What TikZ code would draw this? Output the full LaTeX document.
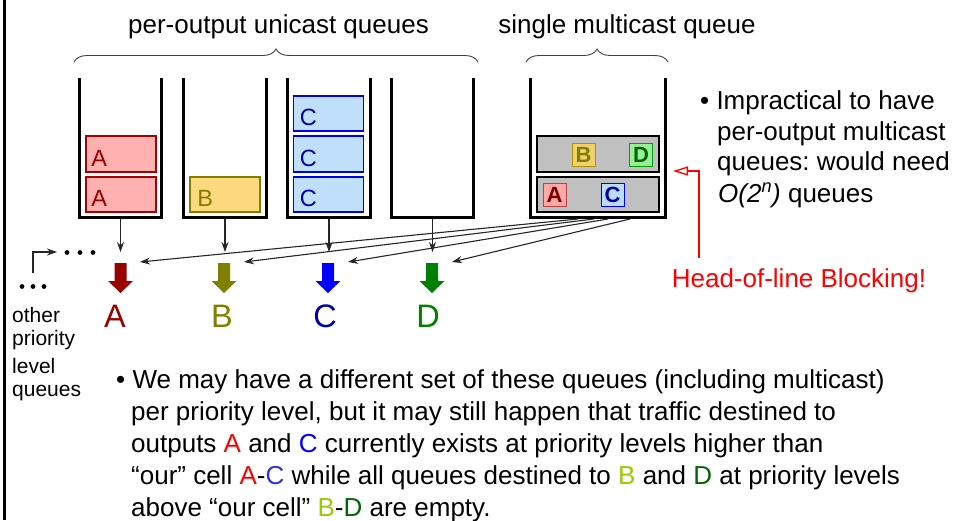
\documentclass[tikz,border=0pt]{standalone}
\usepackage{fontspec}
\setmainfont{Liberation Sans}
\usetikzlibrary{arrows.meta,decorations.pathreplacing,calc}
\frenchspacing

\definecolor{aDark}{HTML}{990000}
\definecolor{aFill}{HTML}{FFB0B0}
\definecolor{aLine}{HTML}{A80000}
\definecolor{bDark}{HTML}{808000}
\definecolor{bFill}{HTML}{FFD980}
\definecolor{cFill}{HTML}{BFDFFA}
\definecolor{cLine}{HTML}{0000F0}
\definecolor{cDark}{HTML}{0000A0}
\definecolor{dDark}{HTML}{008000}
\definecolor{rowGray}{HTML}{C0C0C0}
\definecolor{sqAFill}{HTML}{FFA8A8}
\definecolor{sqALine}{HTML}{C04040}
\definecolor{sqBFill}{HTML}{F2D070}
\definecolor{sqBLine}{HTML}{B09000}
\definecolor{sqCFill}{HTML}{BBDDFF}
\definecolor{sqDFill}{HTML}{99EE99}
\definecolor{sqDLine}{HTML}{00A000}
\definecolor{txtRed}{HTML}{FF0000}
\definecolor{txtBlue}{HTML}{0000FF}
\definecolor{txtSlate}{HTML}{3333CC}
\definecolor{txtLime}{HTML}{99CC00}
\definecolor{txtGreen}{HTML}{006600}

\tikzset{
  queue/.style={minimum width=#1, minimum height=139pt, inner sep=0pt, draw=none},
  wall/.style={line width=3pt, line join=miter, line cap=butt},
  cell/.style={minimum width=70pt, minimum height=35pt, inner sep=0pt, line width=1.8pt},
  cellA/.style={cell, fill=aFill, draw=aLine},
  cellB/.style={cell, fill=bFill, draw=bDark},
  cellC/.style={cell, fill=cFill, draw=cLine},
  celltext/.style={inner sep=0pt, anchor=base west, font=\fontsize{23.5}{23.5}\selectfont},
  grayrow/.style={minimum width=122pt, inner sep=0pt, fill=rowGray, draw=black, line width=2pt},
  sq/.style={minimum size=23pt, inner sep=0pt, line width=1pt, font=\fontsize{22}{22}\selectfont\bfseries},
  bigtxt/.style={inner sep=0pt, anchor=base, font=\fontsize{32.5}{32.5}\selectfont},
  body/.style={inner sep=0pt, anchor=base west, font=\fontsize{26}{31}\selectfont},
  small/.style={inner sep=0pt, anchor=base west, font=\fontsize{21}{21}\selectfont},
  conn/.style={draw=black!85, line width=1.1pt, -{Stealth[length=10pt,width=7pt]}},
  bracket/.style={draw=black!75, line width=0.9pt, decorate,
    decoration={brace, amplitude=13pt}},
  redarrow/.style={draw=txtRed, line width=1.3pt, -{Triangle[open, length=15pt, width=9pt, line width=1.3pt]}},
  pics/bigdown/.style={code={
    \fill[#1] (-6,0) -- (6,0) -- (6,18) -- (12.5,18) -- (0,30) -- (-12.5,18) -- (-6,18) -- cycle;}}
}

\begin{document}
\begin{tikzpicture}[x=1pt, y=-1pt]
\useasboundingbox (0,0) rectangle (957,520);

% frame edge on the left
\draw[line width=2.5pt] (4.5,0) -- (4.5,520);

% headings and braces
\node[body, anchor=base] (hUni) at (278.5,33) {per-output unicast queues};
\node[body, anchor=base] (hMul) at (627,33) {single multicast queue};
\draw[bracket] (74,62) -- (478,62);
\draw[bracket] (526,62) -- (668,62);

% queues (open-topped)
\node[queue=81pt] (q1) at (120.5,147.5) {};
\node[queue=82pt] (q2) at (225,147.5) {};
\node[queue=82pt] (q3) at (329,147.5) {};
\node[queue=81pt] (q4) at (432.5,147.5) {};
\node[queue=134pt] (mq) at (598,147.5) {};

% unicast cells
\node[cellA, minimum height=36pt] (a1) at (121,154) {};
\node[cellA] (a2) at (121,194.5) {};
\node[cellB] (b1) at (225,194.5) {};
\node[cellC] (c1) at (328.5,113.5) {};
\node[cellC, minimum height=36pt] (c2) at (328.5,154) {};
\node[cellC] (c3) at (328.5,194.5) {};
\node[celltext, text=aDark] (a1t) at ([xshift=6pt,yshift=6pt]a1.south west) {A};
\node[celltext, text=aDark] (a2t) at ([xshift=6pt,yshift=6pt]a2.south west) {A};
\node[celltext, text=bDark] (b1t) at ([xshift=8pt,yshift=6pt]b1.south west) {B};
\node[celltext, text=cDark] (c1t) at ([xshift=7pt,yshift=6pt]c1.south west) {C};
\node[celltext, text=cDark] (c2t) at ([xshift=7pt,yshift=6pt]c2.south west) {C};
\node[celltext, text=cDark] (c3t) at ([xshift=7pt,yshift=6pt]c3.south west) {C};

% multicast cells
\node[grayrow, minimum height=36pt] (r1) at (598,154) {};
\node[grayrow, minimum height=35pt] (r2) at (598,194.5) {};
\node[sq, fill=sqBFill, draw=sqBLine, text=bDark] (sB) at (583.5,154.5) {B};
\node[sq, fill=sqDFill, draw=sqDLine, text=txtGreen] (sD) at (641,154.5) {D};
\node[sq, fill=sqAFill, draw=sqALine, text=aDark!80!black] (sA) at (554.5,194.5) {A};
\node[sq, fill=sqCFill, draw=txtBlue, text=cDark] (sC) at (612.5,194.5) {C};

% queue walls
\foreach \q in {q1,q2,q3,q4,mq}
  \draw[wall] (\q.north west) -- (\q.south west) -- (\q.south east) -- (\q.north east);

% outputs
\coordinate (tA) at (120.5,263);
\coordinate (tB) at (224,263);
\coordinate (tC) at (328,263);
\coordinate (tD) at (432,263);
\pic at (tA) {bigdown=aDark};
\pic at (tB) {bigdown=bDark};
\pic at (tC) {bigdown=txtBlue};
\pic at (tD) {bigdown=dDark};
\node[bigtxt, text=aDark] (oA) at (115,327) {A};
\node[bigtxt, text=bDark] (oB) at (222,327) {B};
\node[bigtxt, text=cDark] (oC) at (325,327) {C};
\node[bigtxt, text=dDark] (oD) at (428,327) {D};

% unicast queue heads to their outputs
\coordinate (uA) at (120.5,252);
\coordinate (uB) at (225,252);
\coordinate (uC) at (329,252);
\coordinate (uD) at (432.5,252);
\draw[conn] ([yshift=-1.5pt]q1.south) -- (uA);
\draw[conn] ([yshift=-1.5pt]q2.south) -- (uB);
\draw[conn] ([yshift=-1.5pt]q3.south) -- (uC);
\draw[conn] ([yshift=-1.5pt]q4.south) -- (uD);

% multicast head fans out to every output
\coordinate (f1) at (578,219);
\coordinate (f2) at (594,219);
\coordinate (f3) at (608,219);
\coordinate (f4) at (630,219);
\coordinate (mA) at (140,262);
\coordinate (mB) at (244,262);
\coordinate (mC) at (348,262);
\coordinate (mD) at (452,262);
\draw[conn] (f1) -- (mA);
\draw[conn] (f2) -- (mB);
\draw[conn] (f3) -- (mC);
\draw[conn] (f4) -- (mD);

% other priority levels
\coordinate (e0) at (33,273);
\coordinate (e1) at (57,252);
\draw[conn] (e0) |- (e1);
\foreach \x in {67,80,93} \fill (\x,252.5) circle (2.4pt);
\foreach \x in {22,33,44} \fill (\x,286.5) circle (2.4pt);
\node[small] (lo1) at (12,322) {other};
\node[small] (lo2) at (12,345) {priority};
\node[small] (lo3) at (12,373) {level};
\node[small] (lo4) at (12,396) {queues};

% head-of-line blocking marker
\node[body, anchor=base, text=txtRed] (hol) at (799,287) {Head-of-line Blocking!};
\coordinate (hb) at (699,258);
\coordinate (ht) at (673,171);
\draw[redarrow] (hb) |- (ht);

% note on multicast queues
\node[body] (n1) at (700,109) {• Impractical to have};
\node[body] (n2) at (717,140) {per-output multicast};
\node[body] (n3) at (717,170) {queues: would need};
\node[body] (n4) at (718,202) {\textit{O(2\textsuperscript{n})} queues};

% note on priority levels
\node[body] (p1) at (116,388) {• We may have a different set of these queues (including multicast)};
\node[body] (p2) at (131,420) {per priority level, but it may still happen that traffic destined to};
\node[body] (p3) at (131,452) {outputs \textcolor{txtRed}{A} and \textcolor{txtBlue}{C} currently exists at priority levels higher than};
\node[body] (p4) at (131,484) {“our” cell \textcolor{txtRed}{A}-\textcolor{txtSlate}{C} while all queues destined to \textcolor{txtLime}{B} and \textcolor{txtGreen}{D} at priority levels};
\node[body] (p5) at (131,516) {above “our cell” \textcolor{txtLime}{B}-\textcolor{txtGreen}{D} are empty.};
\end{tikzpicture}
\end{document}
